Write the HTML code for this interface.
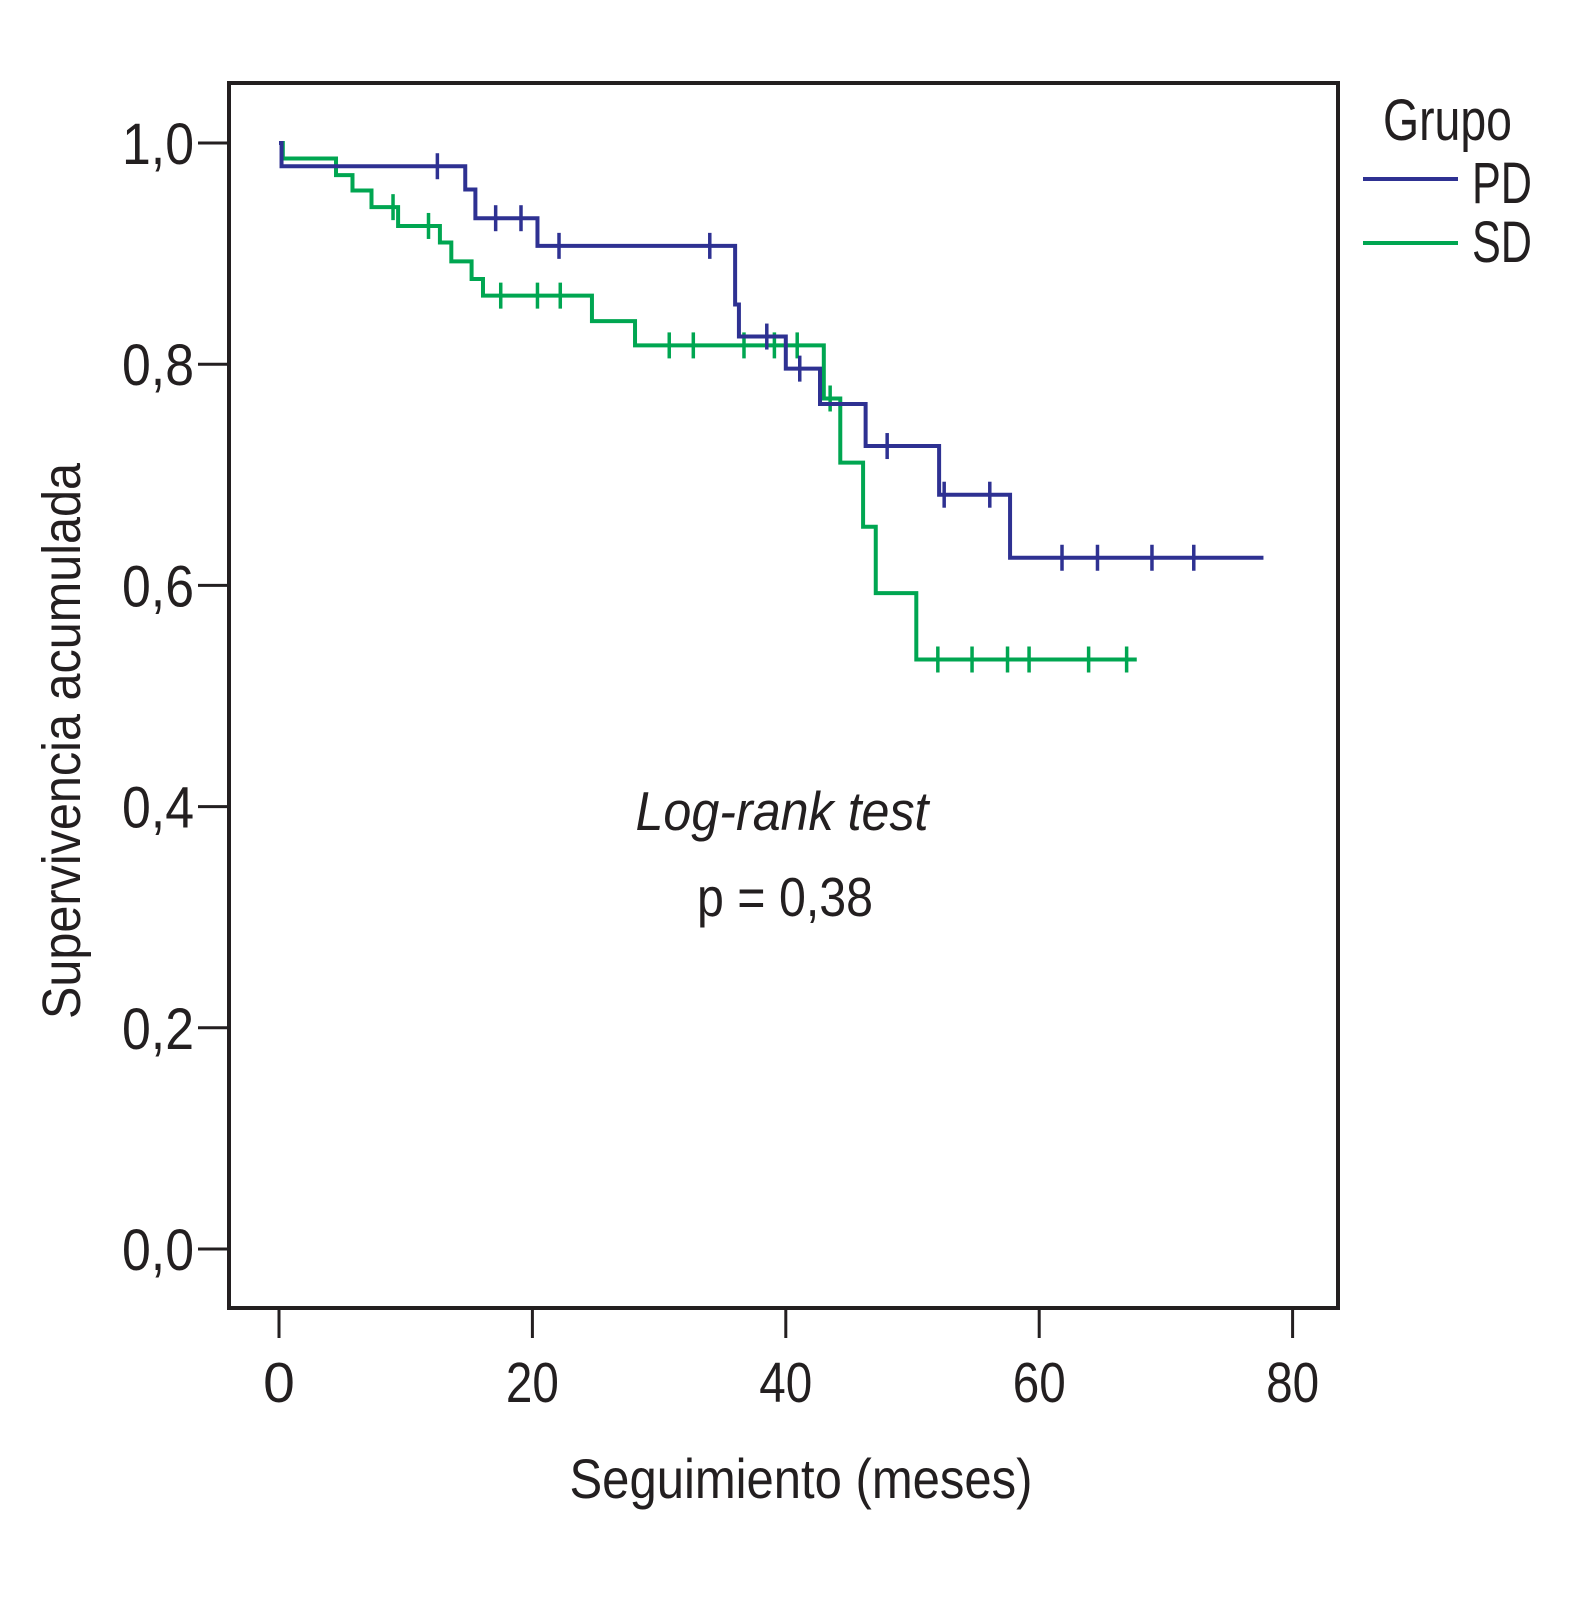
<!DOCTYPE html>
<html><head><meta charset="utf-8"><style>
html,body{margin:0;padding:0;background:#fff;}
svg{display:block;}
text{font-family:"Liberation Sans Narrow","Liberation Sans",sans-serif;fill:#231f20;}
</style></head><body>
<svg id="chart" width="1575" height="1605" viewBox="0 0 1575 1605" xmlns="http://www.w3.org/2000/svg">
<rect x="229" y="83" width="1109" height="1225" fill="none" stroke="#231f20" stroke-width="4"/>
<g id="axes"></g>
<g id="series"></g>
<text transform="translate(80,741) rotate(-90)" text-anchor="middle" font-size="54" textLength="556" lengthAdjust="spacingAndGlyphs">Supervivencia acumulada</text>
<text x="801" y="1498" text-anchor="middle" font-size="56" textLength="463" lengthAdjust="spacingAndGlyphs">Seguimiento (meses)</text>
<text x="782" y="830" text-anchor="middle" font-size="55" font-style="italic" textLength="293" lengthAdjust="spacingAndGlyphs">Log-rank test</text>
<text x="785" y="916" text-anchor="middle" font-size="55" textLength="176" lengthAdjust="spacingAndGlyphs">p = 0,38</text>
<text x="1383" y="140" font-size="58" textLength="129" lengthAdjust="spacingAndGlyphs">Grupo</text>
<line x1="1363" y1="179" x2="1458" y2="179" stroke="#2e3192" stroke-width="4"/>
<text x="1472" y="203" font-size="58" textLength="60" lengthAdjust="spacingAndGlyphs">PD</text>
<line x1="1363" y1="243" x2="1458" y2="243" stroke="#00a651" stroke-width="4"/>
<text x="1472" y="262" font-size="58" textLength="60" lengthAdjust="spacingAndGlyphs">SD</text>
</svg>
<script>
const xTicks=[0,20,40,60,80];
const yTicks=[0,0.2,0.4,0.6,0.8,1.0];
const yTickLabels=["0,0","0,2","0,4","0,6","0,8","1,0"];
const pdTimes=[0,0.2,14.7,15.5,20.4,36.0,36.3,40.0,42.7,46.3,52.1,57.7];
const pdSurv=[1.0,0.979,0.958,0.932,0.907,0.854,0.825,0.796,0.764,0.726,0.682,0.625];
const pdEnd=77.7;
const pdCensor=[12.5,17.1,19.1,22.1,34.0,38.5,41.1,48.0,52.5,56.1,61.8,64.6,68.9,72.2];
const sdTimes=[0,0.3,4.5,5.8,7.3,9.4,12.7,13.6,15.2,16.1,24.7,28.1,43.0,44.3,46.1,47.1,50.3];
const sdSurv=[1.0,0.986,0.971,0.957,0.942,0.925,0.910,0.893,0.877,0.862,0.839,0.817,0.769,0.711,0.653,0.593,0.533];
const sdEnd=67.7;
const sdCensor=[9.0,11.8,17.5,20.4,22.2,30.8,32.7,36.7,39.1,40.9,43.5,52.0,54.7,57.5,59.2,63.9,66.9];
const NS="http://www.w3.org/2000/svg";
const X=t=>279+t*12.67, Y=s=>1249-s*1106;
const axes=document.getElementById('axes'), ser=document.getElementById('series');
function mk(tag,attrs,parent){const e=document.createElementNS(NS,tag);for(const k in attrs)e.setAttribute(k,attrs[k]);parent.appendChild(e);return e;}
xTicks.forEach(v=>{
 const l=mk('line',{x1:X(v),x2:X(v),y1:1308,y2:1338,stroke:'#231f20','stroke-width':3},axes);
 
 
 const t=mk('text',{x:X(v),y:1402,'text-anchor':'middle','font-size':57},axes);
 
 
 t.textContent=v;
 if(String(v).length>1){t.setAttribute('textLength',53);t.setAttribute('lengthAdjust','spacingAndGlyphs');}
});
yTicks.forEach((v,i)=>{
 const l=mk('line',{x1:198,x2:229,y1:Y(v),y2:Y(v),stroke:'#231f20','stroke-width':3},axes);
 
 
 const t=mk('text',{x:194,y:Y(v)+21,'text-anchor':'end','font-size':58,textLength:72,lengthAdjust:'spacingAndGlyphs'},axes);
 
 
 t.textContent=yTickLabels[i];
});
function survAt(times,surv,t){let s=surv[0];for(let i=0;i<times.length;i++){if(times[i]<=t)s=surv[i];}return s;}
function draw(times,surv,end,cens,color,name){
 let d='M'+X(times[0])+' '+Y(surv[0]);
 for(let i=1;i<times.length;i++){d+=' H'+X(times[i])+' V'+Y(surv[i]);}
 d+=' H'+X(end);
 const p=mk('path',{d:d,fill:'none',stroke:color,'stroke-width':4},ser);
 
 
 cens.forEach(c=>{
  const y=Y(survAt(times,surv,c));
  const l=mk('line',{x1:X(c),x2:X(c),y1:y-13,y2:y+13,stroke:color,'stroke-width':3.5},ser);
  
  
 });
}
draw(sdTimes,sdSurv,sdEnd,sdCensor,'#00a651','sd');
draw(pdTimes,pdSurv,pdEnd,pdCensor,'#2e3192','pd');
</script>
</body></html>
